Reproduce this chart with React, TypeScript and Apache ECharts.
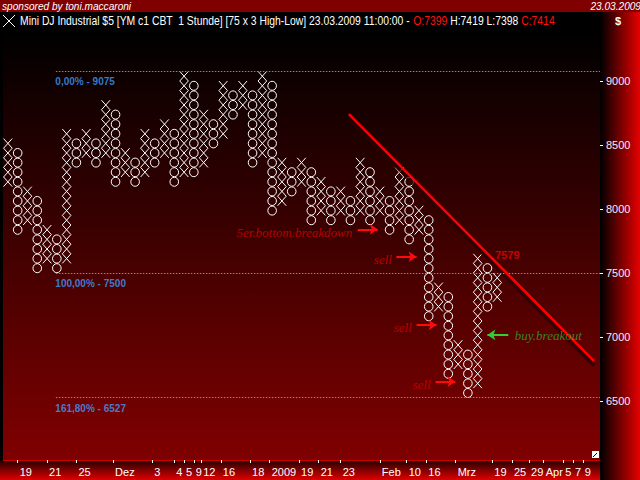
import React, { useEffect, useRef } from 'react';
import * as echarts from 'echarts';

// ---------- DATA ----------
const BOX = 75; // box size
const COLUMN_COUNT = 61; // columns visible on the x axis
const pfType = ['X','O','X','O','X','O','X','O','X','O','X','O','X','O','X','O','X','O','X','O','X','O','X','O','X','O','X','O','X','O','X','O','X','O','X','O','X','O','X','O','X','O','X','O','X','O','X','O','X','O','X'];
const pfLow = [8175,7800,7875,7500,7575,7500,7575,8325,8400,8325,8400,8175,8250,8175,8250,8325,8400,8175,8250,8250,8325,8475,8550,8700,8775,8325,8400,7950,8025,8100,8175,7875,7950,7875,7950,7875,7950,7875,7950,7800,7875,7725,7800,7125,7200,6675,6750,6525,6600,7200,7275];
const pfHigh = [8550,8475,8175,8100,7875,7800,8625,8550,8625,8550,8850,8775,8475,8400,8625,8550,8700,8625,9075,9000,8775,8700,9000,8925,9000,8925,9075,9000,8400,8325,8400,8325,8250,8175,8175,8100,8400,8325,8175,8100,8325,8250,8025,7950,7425,7350,6975,6900,7650,7575,7500];

const yMin = 6039;
const yMax = 9398.4;

const fibLevels = [9075, 7500, 6527];
const fibNames = ['0,00%', '100,00%', '161,80%'];

const dateLabels = ['19','21','25','Dez','3','4','5','9','12','16','18','2009','19','21','23','Feb','10','16','Mrz','19','25','29','Apr','5','7','9'];
const datePos = [1.5,4.5,7.5,11.25,15.25,17.5,18.5,19.5,20.25,22.25,25.25,27.25,30.25,32.25,34.5,38.5,41.25,43.25,46.25,50,52,53.75,55.25,57.25,58.25,59.25];

const trendStart = [35.84, 8742];
const trendEnd = [60.89, 6812];
const trendValue = '7579';

// ---------- ANNOTATIONS ----------
const RED = '#d80000';
const ARROW_RED = '#ff0a0a';
const GREEN = '#2fa52f';
const notes = [
  { text: '5er.bottom.breakdown', at: [36.24, 7812], align: 'right', color: RED },
  { text: 'sell', at: [40.29, 7602], align: 'right', color: RED },
  { text: 'sell', at: [42.32, 7070], align: 'right', color: RED },
  { text: 'sell', at: [44.26, 6625], align: 'right', color: RED },
  { text: 'buy.breakout', at: [52.84, 7004], align: 'left', color: GREEN },
];
const arrows = [
  { from: [36.75, 7841], to: [38.79, 7841], color: ARROW_RED },
  { from: [40.69, 7627], to: [42.76, 7627], color: ARROW_RED },
  { from: [42.76, 7094], to: [44.8, 7094], color: ARROW_RED },
  { from: [44.7, 6651], to: [46.73, 6651], color: ARROW_RED },
  { from: [52.13, 7016], to: [49.99, 7016], color: '#33cc33' },
];

const FIB_BLUE = '#3d9bff';
const SANS = '"Liberation Sans", Arial, sans-serif';
const SCRIPT = '"Liberation Serif", serif';

function buildOption() {
  const pfData = pfType.map((t, i) => [i + 1, pfLow[i], pfHigh[i], t === 'X' ? 1 : 0]);

  const slotData: string[] = Array.from({ length: COLUMN_COUNT * 4 + 1 }, () => '');
  dateLabels.forEach((l, i) => {
    slotData[Math.round(datePos[i] * 4)] = l;
  });

  const renderItem = (params: any, api: any) => {
    const col = api.value(0);
    const low = api.value(1);
    const high = api.value(2);
    const isX = api.value(3) === 1;
    const bw = api.size([1, 0])[0];
    const bh = api.size([0, BOX])[1];
    const hw = bw * 0.44;
    const hh = bh * 0.5;
    const children: any[] = [];
    for (let p = low; p < high - 1e-6; p += BOX) {
      const c = api.coord([col, p + BOX / 2]);
      if (isX) {
        children.push({ type: 'line', shape: { x1: c[0] - hw, y1: c[1] - hh, x2: c[0] + hw, y2: c[1] + hh }, style: { stroke: '#ffffff', lineWidth: 1 } });
        children.push({ type: 'line', shape: { x1: c[0] + hw, y1: c[1] - hh, x2: c[0] - hw, y2: c[1] + hh }, style: { stroke: '#ffffff', lineWidth: 1 } });
      } else {
        children.push({ type: 'ellipse', shape: { cx: c[0], cy: c[1], rx: hw, ry: hh * 0.94 }, style: { fill: 'none', stroke: '#ffffff', lineWidth: 1 } });
      }
    }
    return { type: 'group', children };
  };

  const lg = (x2: number, y2: number, c1: string, c2: string) =>
    new echarts.graphic.LinearGradient(0, 0, x2, y2, [
      { offset: 0, color: c1 },
      { offset: 1, color: c2 },
    ]);

  const shadowOffset = 34;

  return {
    animation: false,
    backgroundColor: '#000000',
    grid: {
      left: 1,
      right: 40,
      top: 30,
      bottom: 20,
      show: true,
      backgroundColor: lg(0, 1, '#000000', '#800000'),
      borderWidth: 0,
    },
    xAxis: [
      { type: 'value', min: 0.5, max: COLUMN_COUNT + 0.5, show: false, splitLine: { show: false } },
      {
        type: 'category',
        data: slotData,
        boundaryGap: false,
        position: 'bottom',
        axisLine: { show: true, lineStyle: { color: '#c80000', width: 1 } },
        axisTick: { show: true, length: 3, interval: (i: number, v: string) => v !== '', lineStyle: { color: '#ffffff' } },
        axisLabel: {
          interval: 0,
          color: '#ffffff',
          fontSize: 11,
          fontFamily: SANS,
          align: 'left',
          margin: 6,
          padding: [0, 0, 0, 2],
        },
        splitLine: { show: false },
      },
    ],
    yAxis: {
      type: 'value',
      position: 'right',
      min: yMin,
      max: yMax,
      minInterval: 500,
      maxInterval: 500,
      axisLine: { show: true, lineStyle: { color: '#000000' } },
      axisTick: { show: true, length: 3, lineStyle: { color: '#ffffff' } },
      axisLabel: {
        color: '#ececff',
        fontSize: 11,
        fontFamily: SANS,
        margin: 6,
        showMinLabel: false,
        showMaxLabel: false,
        formatter: (v: number) => String(Math.round(v)),
      },
      splitLine: { show: false },
    },
    series: [
      {
        name: 'pf',
        type: 'custom',
        xAxisIndex: 0,
        renderItem,
        encode: { x: 0, y: [1, 2] },
        data: pfData,
        z: 3,
      },
      {
        name: 'trendShadow',
        type: 'line',
        xAxisIndex: 0,
        data: [[trendStart[0], trendStart[1] - shadowOffset], [trendEnd[0], trendEnd[1] - shadowOffset]],
        symbol: 'none',
        lineStyle: { color: '#2a0000', width: 4, opacity: 0.75 },
        z: 4,
      },
      {
        name: 'trend',
        type: 'line',
        xAxisIndex: 0,
        data: [trendStart, trendEnd],
        symbol: 'none',
        lineStyle: { color: '#ff0000', width: 2.5 },
        z: 5,
      },
      {
        name: 'notes',
        type: 'scatter',
        xAxisIndex: 0,
        symbolSize: 1,
        itemStyle: { color: 'rgba(0,0,0,0)' },
        z: 6,
        data: [
          ...notes.map((n) => ({
            value: n.at,
            label: {
              show: true,
              formatter: n.text,
              position: [0, 0],
              align: n.align,
              verticalAlign: 'middle',
              color: n.color,
              fontFamily: SCRIPT,
              fontStyle: 'italic',
              fontSize: 13,
            },
          })),
          ...fibLevels.map((lvl, i) => ({
            value: [5.9, lvl],
            label: {
              show: true,
              formatter: `${fibNames[i]} - ${lvl}`,
              position: [0, 0],
              align: 'left',
              verticalAlign: 'top',
              offset: [0, 6],
              color: FIB_BLUE,
              fontFamily: SANS,
              fontWeight: 'bold',
              fontSize: 10,
            },
          })),
          {
            value: [52.08, 7633],
            label: {
              show: true,
              formatter: trendValue,
              position: [0, 0],
              align: 'center',
              verticalAlign: 'middle',
              color: '#ee0000',
              fontFamily: SANS,
              fontWeight: 'bold',
              fontSize: 11,
            },
          },
        ],
        markLine: {
          silent: true,
          symbol: ['none', 'none'],
          label: { show: false },
          lineStyle: { color: FIB_BLUE, type: [1.5, 1.5], width: 1.2, opacity: 1 },
          data: fibLevels.map((lvl) => [{ coord: [5.9, lvl] }, { coord: [COLUMN_COUNT + 0.5, lvl] }]),
        },
      },
      {
        name: 'arrows',
        type: 'line',
        xAxisIndex: 0,
        data: [],
        z: 6,
        markLine: {
          silent: true,
          symbol: ['none', 'arrow'],
          symbolSize: [8, 8],
          label: { show: false },
          data: arrows.map((a) => [
            { coord: a.from, lineStyle: { color: a.color, width: 2, type: 'solid' } },
            { coord: a.to },
          ]),
        },
      },
    ],
    graphic: {
      elements: [
        { type: 'rect', silent: true, z: -10, shape: { x: 600, y: 12, width: 40, height: 468 }, style: { fill: lg(1, 0, '#000000', '#e60000') } },
        { type: 'rect', silent: true, z: -10, shape: { x: 0, y: 461, width: 600, height: 19 }, style: { fill: lg(0, 1, '#2a0000', '#e00000') } },
        { type: 'rect', silent: true, z: 10, shape: { x: 0, y: 0, width: 640, height: 12 }, style: { fill: '#800000' } },
        { type: 'rect', silent: true, z: 10, shape: { x: 0, y: 12, width: 600, height: 18 }, style: { fill: '#000000' } },
        { type: 'rect', silent: true, z: 10, shape: { x: 600, y: 12, width: 40, height: 18 }, style: { fill: lg(1, 0, '#000000', '#e60000') } },
        { type: 'line', silent: true, z: 11, shape: { x1: 3, y1: 15, x2: 15, y2: 27 }, style: { stroke: '#ffffff', lineWidth: 1 } },
        { type: 'line', silent: true, z: 11, shape: { x1: 15, y1: 15, x2: 3, y2: 27 }, style: { stroke: '#ffffff', lineWidth: 1 } },
        {
          type: 'text', silent: true, z: 11, x: 2, y: 6, scaleX: 0.92,
          style: { text: 'sponsored by toni.maccaroni', fill: '#ffffff', font: `italic 11px ${SANS}`, verticalAlign: 'middle' },
        },
        {
          type: 'text', silent: true, z: 11, x: 641, y: 6, scaleX: 0.92,
          style: { text: '23.03.2009', fill: '#ffffff', font: `italic 11px ${SANS}`, align: 'right', verticalAlign: 'middle' },
        },
        {
          type: 'text', silent: true, z: 11, x: 20, y: 21, scaleX: 0.865,
          style: {
            text: '{w|Mini DJ Industrial $5 [YM c1 CBT  1 Stunde] [75 x 3 High-Low] 23.03.2009 11:00:00 - }{r|O:7399}{w| H:7419 L:7398 }{r|C:7414}',
            verticalAlign: 'middle',
            rich: {
              w: { fill: '#ffffff', font: `12px ${SANS}` },
              r: { fill: '#ff1010', font: `12px ${SANS}` },
            },
          },
        },
        {
          type: 'text', silent: true, z: 11, x: 618, y: 21,
          style: { text: '$', fill: '#ffffff', font: `bold 11px ${SANS}`, align: 'center', verticalAlign: 'middle' },
        },
        { type: 'rect', silent: true, z: 11, shape: { x: 592, y: 451, width: 7, height: 7 }, style: { fill: '#ffffff' } },
        { type: 'line', silent: true, z: 12, shape: { x1: 593, y1: 457, x2: 597, y2: 453 }, style: { stroke: '#000000', lineWidth: 1 } },
      ],
    },
  };
}

export default function App() {
  const ref = useRef<HTMLDivElement>(null);
  useEffect(() => {
    if (!ref.current) return;
    const chart = echarts.init(ref.current, undefined, { renderer: 'svg' });
    chart.setOption(buildOption() as any);
    return () => chart.dispose();
  }, []);
  return <div ref={ref} style={{ position: 'fixed', left: 0, top: 0, width: 640, height: 480 }} />;
}
